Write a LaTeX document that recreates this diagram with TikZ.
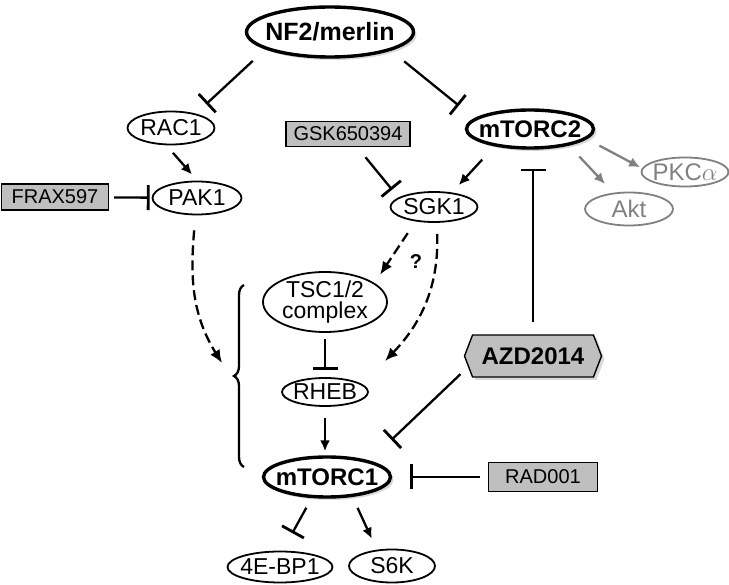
\documentclass[tikz,border=0pt]{standalone}
\usepackage{fontspec}
\setmainfont{Liberation Sans}
\usetikzlibrary{shapes.geometric,shapes.symbols,arrows.meta,shadows,calc,decorations.pathreplacing}

\begin{document}
\begin{tikzpicture}[x=1pt, y=1pt,
    protein/.style={draw, ellipse, inner xsep=-8pt, inner ysep=-4pt, line width=1.8pt, font=\fontsize{23}{21}\selectfont},
    hub/.style={protein, line width=3.4pt, fill=white, font=\bfseries\fontsize{24}{24}\selectfont, drop shadow={shadow xshift=3pt, shadow yshift=-3pt, opacity=0.3}},
    faded/.style={protein, draw=gray, text=gray, font=\fontsize{24}{24}\selectfont},
    drug/.style={draw, rectangle, fill=gray!50, line width=1.4pt, inner sep=0pt, font=\fontsize{20}{20}\selectfont},
    act/.style={-{Latex[length=11pt,width=10pt]}, line width=2.3pt},
    dashact/.style={-{Latex[length=13pt,width=11pt]}, line width=2.3pt, dash pattern=on 10pt off 5pt},
    inh/.style={-{Bar[width=25pt,line width=2.8pt]}, line width=2.3pt}
]
\useasboundingbox (0,0) rectangle (729,-585);

% mTOR signalling downstream of NF2/merlin
\node[hub, minimum width=167pt, minimum height=50pt, font=\bfseries\fontsize{25}{25}\selectfont] (nf2) at (330,-32) {NF2/merlin};
\node[protein, minimum width=87pt, minimum height=33pt] (rac1) at (171,-128) {RAC1};
\node[protein, minimum width=89pt, minimum height=33pt] (pak1) at (197,-198) {PAK1};
\node[drug, minimum width=107pt, minimum height=26pt] (frax) at (55,-197) {FRAX597};
\node[drug, minimum width=124pt, minimum height=25pt] (gsk) at (348,-134) {GSK650394};
\node[hub, minimum width=127pt, minimum height=38pt] (mtorc2) at (530,-129) {mTORC2};
\node[faded, minimum width=87pt, minimum height=29pt] (pkc) at (685,-172) {PKC$\alpha$};
\node[faded, minimum width=88pt, minimum height=33pt] (akt) at (629,-209) {Akt};
\node[protein, minimum width=87pt, minimum height=30pt] (sgk1) at (434,-207) {SGK1};
\node[protein, minimum width=124pt, minimum height=60pt, align=center] (tsc) at (325,-302) {TSC1/2\\complex};
\node[protein, minimum width=86pt, minimum height=28pt] (rheb) at (325,-392) {RHEB};
\node[drug, signal, signal to=west and east, signal pointer angle=138, minimum width=137pt, minimum height=42pt,
      font=\bfseries\fontsize{24}{24}\selectfont, drop shadow={shadow xshift=3pt, shadow yshift=-3pt, opacity=0.3}] (azd) at (533,-356) {AZD2014};
\node[hub, minimum width=127pt, minimum height=40pt] (mtorc1) at (327,-477) {mTORC1};
\node[drug, minimum width=109pt, minimum height=29pt] (rad) at (543,-477) {RAD001};
\node[protein, minimum width=105pt, minimum height=31pt] (ebp) at (280,-567) {4E-BP1};
\node[protein, minimum width=86pt, minimum height=33pt] (s6k) at (392,-566) {S6K};
\node[font=\bfseries\fontsize{20}{20}\selectfont] (qmark) at (416,-262) {?};

\coordinate (pakend) at (222,-363);
\coordinate (sgkend) at (385,-361);

\draw[inh, shorten <=17pt, shorten >=14pt] (nf2.195) -- (rac1.30);
\draw[inh, shorten <=17pt, shorten >=20pt] (nf2.343) -- (mtorc2.169);
\draw[act, shorten <=10pt, shorten >=8pt] (rac1.255) -- (pak1.89);
\draw[inh, shorten <=5pt, shorten >=2pt] (frax) -- (pak1);
\draw[inh, shorten <=13pt, shorten >=10pt] (gsk.-55) -- (sgk1.165);
\draw[act, shorten <=18pt, shorten >=10pt] (mtorc2.206) -- (sgk1.39);
\draw[act, gray, shorten <=14pt, shorten >=2pt] (mtorc2.350) -- (pkc.175);
\draw[act, gray, shorten <=15pt, shorten >=12pt] (mtorc2.337) -- (akt.134);
\draw[inh, shorten <=12pt, shorten >=19pt] (azd.north) -- (azd.north |- mtorc2.south);

\draw[dashact, shorten <=15pt] (pak1.265) to[out=-95, in=122] (pakend);
\draw[dashact, shorten <=11pt] (sgk1.-80) to[out=-88, in=46] (sgkend);
\draw[dashact, shorten <=14pt, shorten >=10pt] (sgk1.218) -- (tsc.21);

\draw[inh, shorten <=6pt, shorten >=7pt] (tsc) -- (rheb);
\draw[act, shorten <=11pt, shorten >=4pt] (rheb.south) -- (rheb.south |- mtorc1.north);
\draw[inh, shorten <=11pt, shorten >=30pt] ($(azd)+(-64.5,-10.5)$) -- (mtorc1.21);
\draw[inh, shorten <=8pt, shorten >=18pt] (rad) -- (mtorc1);
\draw[inh, shorten <=11pt, shorten >=20pt] (mtorc1.234) -- (ebp.81);
\draw[act, shorten <=12pt, shorten >=12pt] (mtorc1.322) -- (s6k.133);

\draw[line width=2.3pt, decorate, decoration={brace, amplitude=10pt}] (244,-467) -- (244,-285);

\end{tikzpicture}
\end{document}
